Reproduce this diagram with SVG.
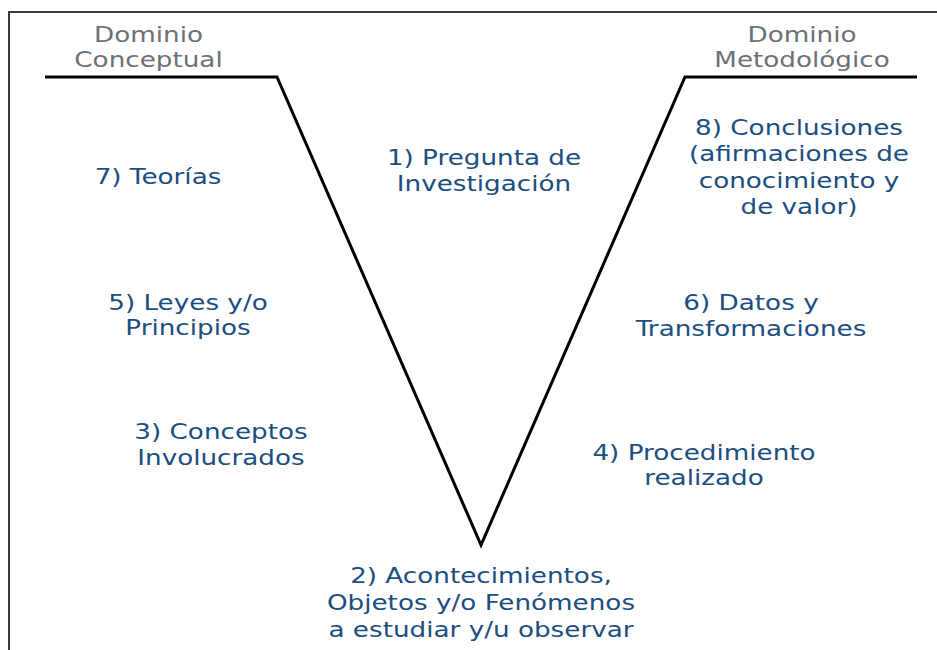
<svg xmlns="http://www.w3.org/2000/svg" width="937" height="650" viewBox="0 0 937 650">
<style>
text{font-family:"DejaVu Sans","Verdana",sans-serif;font-size:21.5px;text-anchor:middle}
.blue{fill:#1c4e7f}
.gray{fill:#6b7176}
.frame{fill:none;stroke:#3a3a3a;stroke-width:2}
.v{fill:none;stroke:#000;stroke-width:3;stroke-linejoin:miter}
</style>
<rect width="937" height="650" fill="#fff"/>
<path class="frame" d="M9,650 V12 H937"/>
<g id="connectors">
<polyline class="v" points="45,77 277,77 481,545 685,77 917,77"/>
</g>
<g id="dominio-conceptual" transform="translate(148.5,0) scale(1.22,1)">
<text class="gray" x="0" y="42">Dominio</text>
<text class="gray" x="0" y="67">Conceptual</text>
</g>
<g id="dominio-metodologico" transform="translate(802,0) scale(1.22,1)">
<text class="gray" x="0" y="42">Dominio</text>
<text class="gray" x="0" y="67">Metodológico</text>
</g>
<g id="n1" transform="translate(484,0) scale(1.22,1)">
<text class="blue" x="0" y="165">1) Pregunta de</text>
<text class="blue" x="0" y="191">Investigación</text>
</g>
<g id="n7" transform="translate(158,0) scale(1.22,1)">
<text class="blue" x="0" y="184">7) Teorías</text>
</g>
<g id="n5" transform="translate(188,0) scale(1.22,1)">
<text class="blue" x="0" y="310">5) Leyes y/o</text>
<text class="blue" x="0" y="335">Principios</text>
</g>
<g id="n3" transform="translate(221,0) scale(1.22,1)">
<text class="blue" x="0" y="439">3) Conceptos</text>
<text class="blue" x="0" y="465">Involucrados</text>
</g>
<g id="n8" transform="translate(799,0) scale(1.22,1)">
<text class="blue" x="0" y="135">8) Conclusiones</text>
<text class="blue" x="0" y="161">(afirmaciones de</text>
<text class="blue" x="0" y="188">conocimiento y</text>
<text class="blue" x="0" y="214">de valor)</text>
</g>
<g id="n6" transform="translate(751,0) scale(1.22,1)">
<text class="blue" x="0" y="310">6) Datos y</text>
<text class="blue" x="0" y="336">Transformaciones</text>
</g>
<g id="n4" transform="translate(704,0) scale(1.22,1)">
<text class="blue" x="0" y="460">4) Procedimiento</text>
<text class="blue" x="0" y="485">realizado</text>
</g>
<g id="n2" transform="translate(481,0) scale(1.22,1)">
<text class="blue" x="0" y="583">2) Acontecimientos,</text>
<text class="blue" x="0" y="610">Objetos y/o Fenómenos</text>
<text class="blue" x="0" y="637">a estudiar y/u observar</text>
</g>
</svg>
